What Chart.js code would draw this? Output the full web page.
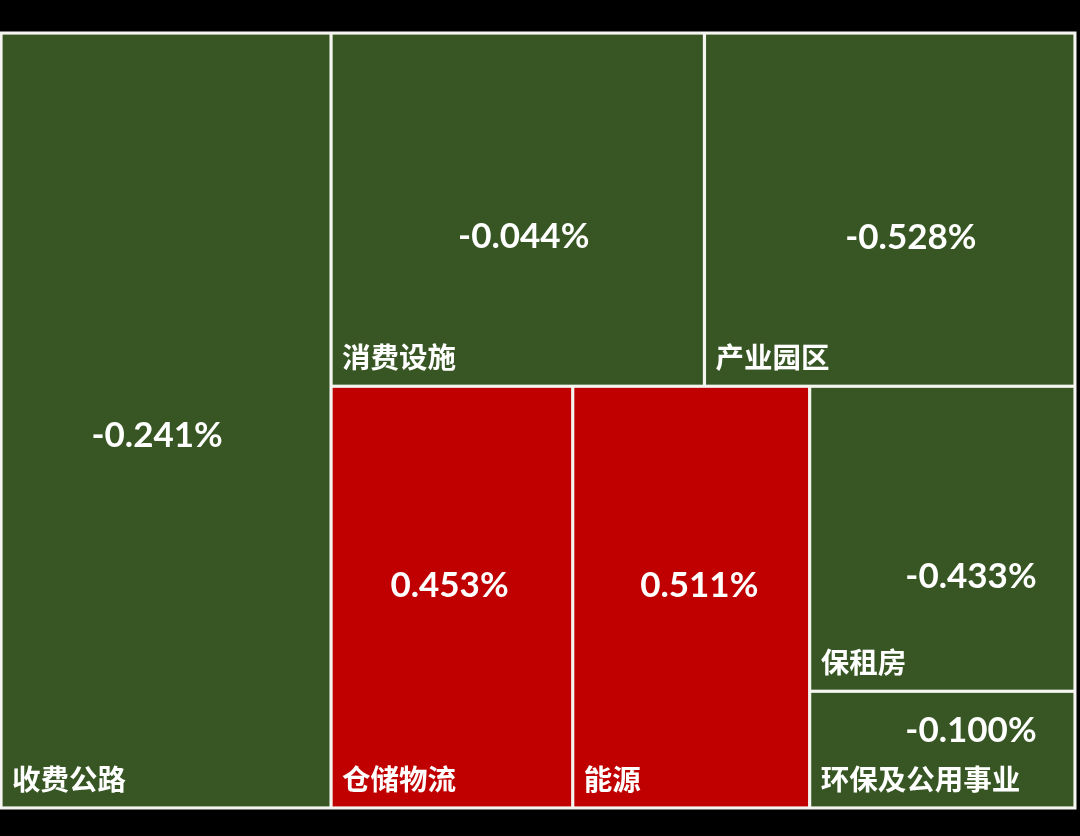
<!DOCTYPE html>
<html>
<head>
<meta charset="utf-8">
<script src="https://cdn.jsdelivr.net/npm/chart.js@4.4.1/dist/chart.umd.min.js"></script>
<style>
  html, body { margin: 0; padding: 0; background: #000; }
  #wrap { width: 1080px; height: 836px; }
</style>
</head>
<body>
<div id="wrap"><canvas id="treemap" width="1080" height="836"></canvas></div>
<script>
// 板块名称
const sectors = ['收费公路', '消费设施', '产业园区', '仓储物流', '能源', '保租房', '环保及公用事业'];
// 面积权重（按图估算）
const sizes = [256, 132, 131, 102, 100, 81, 31];
// 涨跌幅 %
const changes = [-0.241, -0.044, -0.528, 0.453, 0.511, -0.433, -0.100];

// 切分结构: h = 左右切, v = 上下切
const tree = { dir: 'h', kids: [0, { dir: 'v', kids: [
  { dir: 'h', kids: [1, 2] },
  { dir: 'h', kids: [3, 4, { dir: 'v', kids: [5, 6] }] }
] }] };

// 数值标签在格子内的相对位置
const valuePos = [
  [0.473, 0.52], [0.516, 0.578], [0.557, 0.58],
  [0.49, 0.472], [0.534, 0.472], [0.608, 0.626], [0.608, 0.342]
];

const upColor = '#C00000';
const downColor = '#375623';

function weight(node) {
  if (typeof node === 'number') return sizes[node];
  return node.kids.reduce((s, k) => s + weight(k), 0);
}

function layout(node, r, out) {
  if (typeof node === 'number') {
    out[node] = { x0: r.x0, x1: r.x1, y0: r.y0, y1: r.y1 };
    return;
  }
  const total = weight(node);
  let pos = node.dir === 'h' ? r.x0 : r.y0;
  node.kids.forEach(k => {
    const f = weight(k) / total;
    if (node.dir === 'h') {
      const w = (r.x1 - r.x0) * f;
      layout(k, { x0: pos, x1: pos + w, y0: r.y0, y1: r.y1 }, out);
      pos += w;
    } else {
      const h = (r.y1 - r.y0) * f;
      layout(k, { x0: r.x0, x1: r.x1, y0: pos, y1: pos + h }, out);
      pos += h;
    }
  });
}

const cells = [];
layout(tree, { x0: 0, x1: 1, y0: 0, y1: 1 }, cells);
cells.forEach((c, i) => {
  c.x = (c.x0 + c.x1) / 2;
  c.y = (c.y0 + c.y1) / 2;
  c.name = sectors[i];
  c.change = changes[i];
});

// 格子绘制插件
const treemapPlugin = {
  id: 'treemapCells',
  beforeDatasetsDraw(chart) {
    const ctx = chart.ctx;
    const xs = chart.scales.x, ys = chart.scales.y;
    const gap = 1.6;
    const a = chart.chartArea;
    ctx.save();
    ctx.fillStyle = '#f4f4f0';
    ctx.fillRect(a.left - 1.5, a.top - 1.5, a.right - a.left + 3, a.bottom - a.top + 3);
    chart.data.datasets[0].data.forEach((c, i) => {
      const left = xs.getPixelForValue(c.x0);
      const right = xs.getPixelForValue(c.x1);
      const top = ys.getPixelForValue(c.y0);
      const bottom = ys.getPixelForValue(c.y1);
      ctx.fillStyle = c.change >= 0 ? upColor : downColor;
      ctx.fillRect(left + gap, top + gap, right - left - gap * 2, bottom - top - gap * 2);

      ctx.fillStyle = '#ffffff';
      // 数值
      ctx.font = 'bold 35px Lato, "Noto Sans", sans-serif';
      ctx.textAlign = 'center';
      ctx.textBaseline = 'middle';
      const vx = left + (right - left) * valuePos[i][0];
      const vy = top + (bottom - top) * valuePos[i][1];
      ctx.fillText(c.change.toFixed(3) + '%', vx, vy);
      // 名称
      ctx.font = 'bold 28.5px "Noto Sans CJK SC", sans-serif';
      ctx.textAlign = 'left';
      ctx.fillText(c.name, left + 11, bottom - 29);
    });
    ctx.restore();
  }
};

new Chart(document.getElementById('treemap'), {
  type: 'scatter',
  data: {
    datasets: [{
      data: cells,
      pointRadius: 0,
      pointHoverRadius: 0
    }]
  },
  options: {
    responsive: false,
    animation: false,
    layout: { padding: { left: 1, right: 5, top: 33, bottom: 28 } },
    scales: {
      x: { type: 'linear', min: 0, max: 1, display: false },
      y: { type: 'linear', min: 0, max: 1, reverse: true, display: false }
    },
    plugins: {
      legend: { display: false },
      tooltip: { enabled: false }
    }
  },
  plugins: [treemapPlugin]
});
</script>
</body>
</html>
